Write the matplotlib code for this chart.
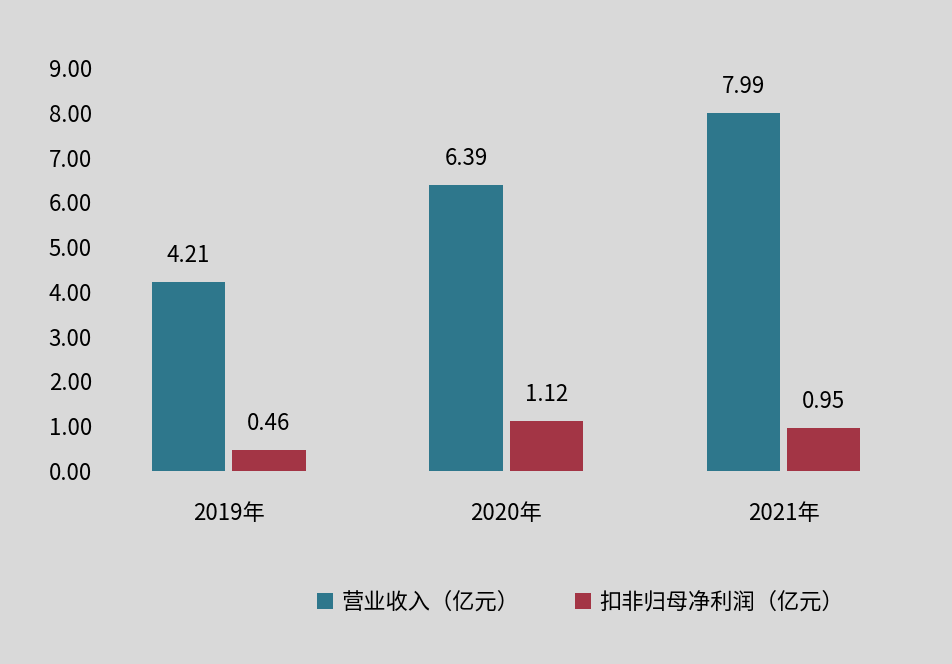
import matplotlib
matplotlib.use("Agg")
import matplotlib.pyplot as plt
import numpy as np

plt.rcParams['font.family'] = ['Noto Sans CJK SC', 'DejaVu Sans']

years = ["2019年", "2020年", "2021年"]
revenue = [4.21, 6.39, 7.99]
profit = [0.46, 1.12, 0.95]
series_names = ["营业收入（亿元）", "扣非归母净利润（亿元）"]
yticks = [0, 1, 2, 3, 4, 5, 6, 7, 8, 9]

BG = "#d9d9d9"
TEAL = "#2e778c"
RED = "#a33545"

fig = plt.figure(figsize=(9.52, 6.64), dpi=100, facecolor=BG)
ax = fig.add_axes([0.095, 0.2907, 0.874, 0.6069], facecolor=BG)

x = np.arange(len(years))
w = 0.264
b1 = ax.bar(x - 0.146, revenue, w, color=TEAL, label=series_names[0])
b2 = ax.bar(x + 0.144, profit, w, color=RED, label=series_names[1])

for bars in (b1, b2):
    for r in bars:
        ax.annotate(f"{r.get_height():.2f}", (r.get_x() + r.get_width() / 2, r.get_height()),
                    xytext=(0, 11), textcoords="offset points", ha="center", va="bottom",
                    fontsize=16)

ax.set_xlim(-0.5, 2.5)
ax.set_ylim(0, 9)
ax.set_yticks(yticks)
ax.set_yticklabels([f"{v:.2f}" for v in yticks], fontsize=16)
ax.set_xticks(x)
ax.set_xticklabels(years, fontsize=16)
ax.tick_params(length=0)
ax.tick_params(axis="y", pad=30)
for lbl in ax.get_yticklabels():
    lbl.set_ha("left")
ax.tick_params(axis="x", pad=22)
for s in ax.spines.values():
    s.set_visible(False)

fig.legend(loc="center", bbox_to_anchor=(0.61, 0.093), ncol=2, frameon=False,
           fontsize=16, handlelength=0.7, handleheight=0.7, handletextpad=0.4,
           columnspacing=2.5)

plt.savefig("out.png", dpi=100, facecolor=BG)
